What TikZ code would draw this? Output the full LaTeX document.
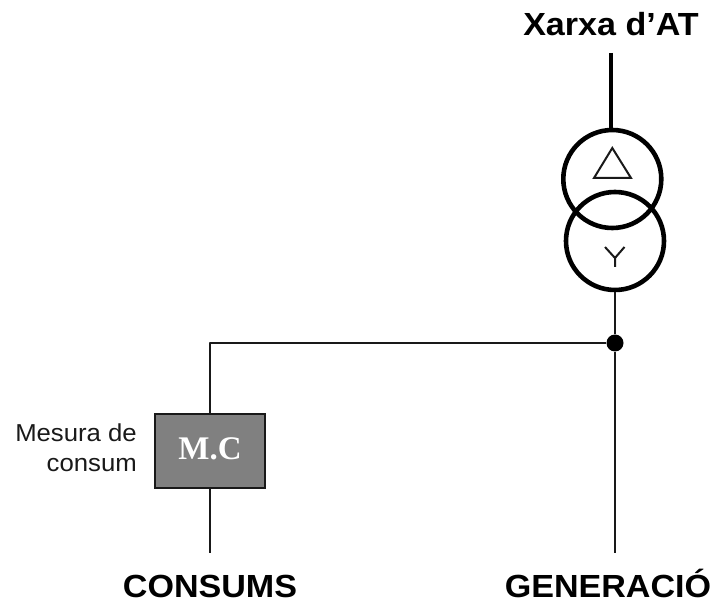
\documentclass[tikz,border=0pt]{standalone}
\usepackage{fontspec}
\setmainfont{Liberation Sans}
\newfontfamily\serifbox{Liberation Serif}
\newfontfamily\bigsans[FakeStretch=1.065]{Liberation Sans}
\newfontfamily\smallsans[FakeStretch=1.05]{Liberation Sans}
\definecolor{boxgray}{gray}{0.5}
\definecolor{ink}{gray}{0.1}
\tikzset{
  x=1pt,y=-1pt,
  thin line/.style={draw=ink,line width=2.2pt},
  heavy line/.style={draw=black,line width=3.2pt},
  winding/.style={circle,draw=black,line width=4.6pt,minimum size=98pt,inner sep=0pt},
  symbol/.style={draw=ink,line width=2pt,line join=miter},
  label big/.style={inner sep=0pt,anchor=base,font=\bigsans\bfseries\fontsize{32}{32}\selectfont,text=black},
  label small/.style={inner sep=0pt,align=right,anchor=east,font=\smallsans\fontsize{24.5}{30}\selectfont,text=ink},
  meter/.style={draw=ink,fill=boxgray,line width=2.2pt,minimum width=110pt,minimum height=74pt,inner sep=0pt,
    font=\serifbox\bfseries\fontsize{33}{33}\selectfont,text=white},
}
\begin{document}
\begin{tikzpicture}
\useasboundingbox (0,0) rectangle (713,601);
\node[label big] (at) at (611,36) {Xarxa d’AT};
\coordinate (top) at (611,53);
\node[winding] (delta) at (612.3,179) {};
\node[winding] (wye) at (615,241) {};
\coordinate (deltaTop) at (611,131);
\coordinate (d1) at (594,178);
\coordinate (d2) at (631,178);
\coordinate (d3) at (612.3,148);
\coordinate (y0) at (615,258);
\coordinate (y1) at (605,247);
\coordinate (y2) at (624.5,247);
\coordinate (y3) at (615,267);
\draw[symbol] (d1) -- (d2) -- (d3) -- cycle;
\draw[symbol] (y1) -- (y0) -- (y2) (y0) -- (y3);
\draw[heavy line] (top) -- (deltaTop);
\node[circle,fill=black,minimum size=17pt,inner sep=0pt] (dot) at (615,343) {};
\coordinate (gen) at (615,553);
\coordinate (corner) at (210,343);
\coordinate (cons) at (210,553);
\node[meter] (mc) at (210,451) {\raisebox{4.5pt}{M.C}};
\draw[thin line] (wye.south) -- (dot);
\draw[thin line] (dot) -- (gen);
\draw[thin line,line join=round] (dot) -- (corner) -- (mc.north);
\draw[thin line] (mc.south) -- (cons);
\node[label small] (mes) at (137,448) {Mesura de\\consum};
\node[label big] (c) at (210,597.5) {CONSUMS};
\node[label big] (g) at (608,597.5) {GENERACIÓ};
\end{tikzpicture}
\end{document}
